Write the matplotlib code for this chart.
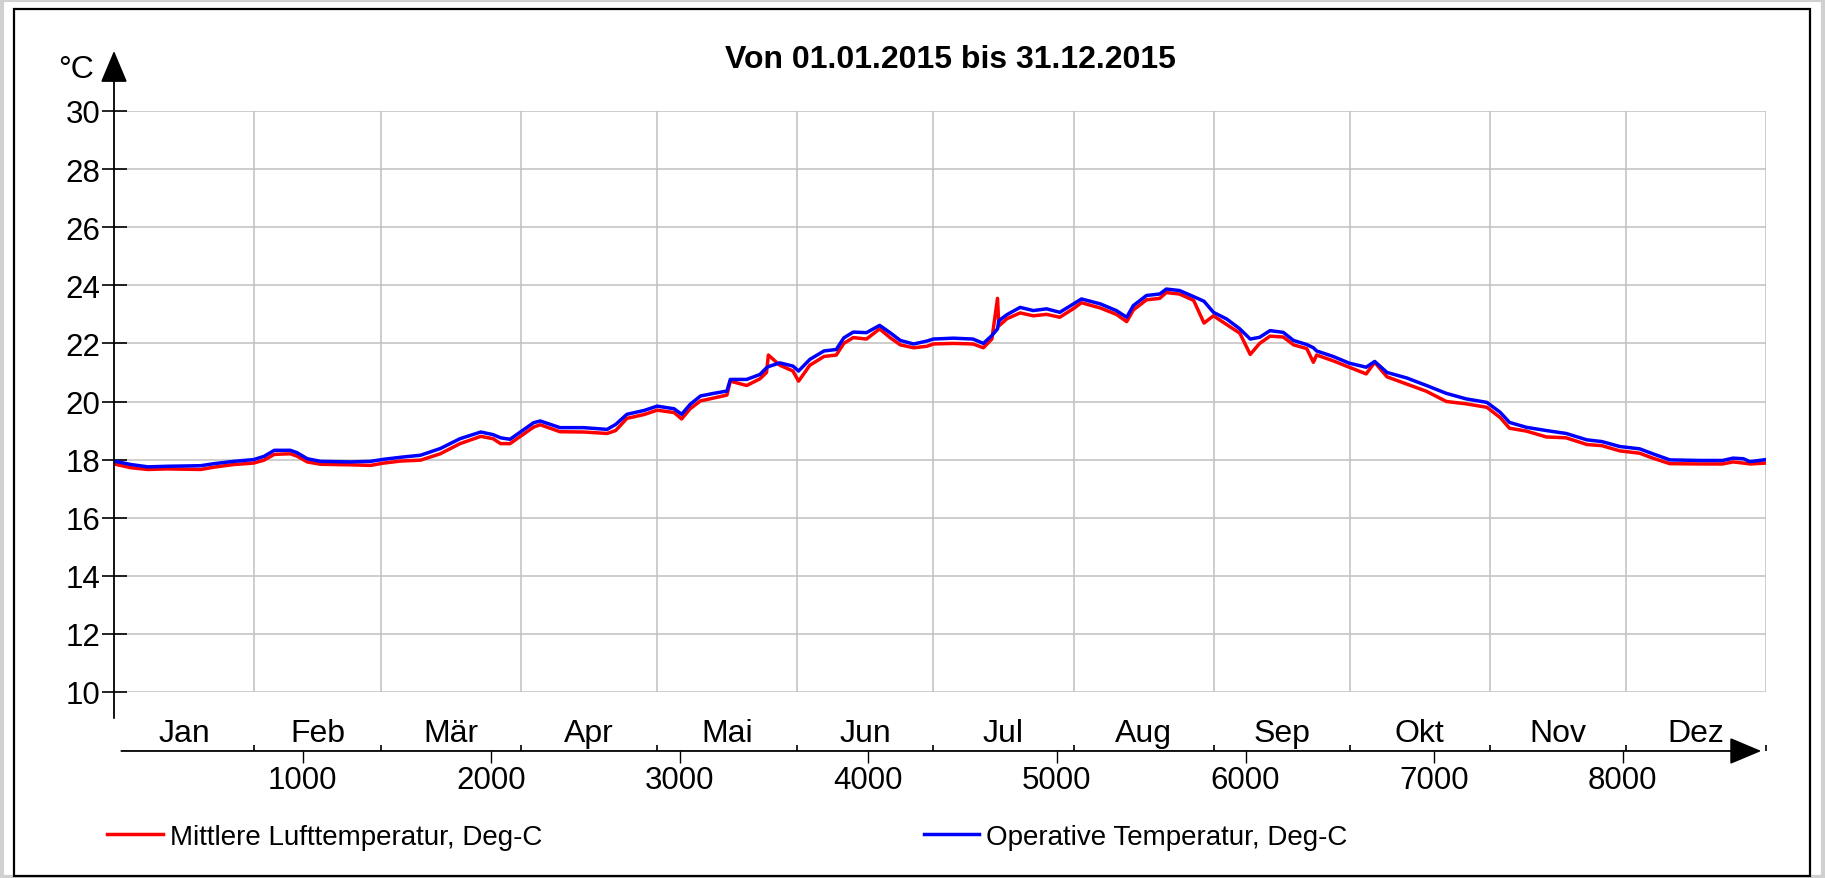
import numpy as np
import matplotlib
matplotlib.use("Agg")
import matplotlib.pyplot as plt
from matplotlib.patches import Rectangle

plt.rcParams['font.family'] = ['Liberation Sans', 'DejaVu Sans']

# hour of year and the two temperature series
hours = [0, 90, 180, 280, 460, 530, 635, 740, 795, 850, 935, 970, 1025, 1095,
         1255, 1360, 1430, 1520, 1625, 1730, 1835, 1945, 2010, 2050, 2100, 2155,
         2225, 2260, 2365, 2490, 2615, 2660, 2720, 2810, 2880, 2970, 3010, 3055,
         3110, 3180, 3250, 3268, 3355, 3425, 3460, 3470, 3530, 3600, 3630, 3690,
         3765, 3830, 3870, 3920, 3990, 4060, 4115, 4170, 4240, 4310, 4345, 4450,
         4555, 4610, 4655, 4685, 4692, 4735, 4805, 4875, 4945, 5015, 5088, 5130,
         5230, 5315, 5370, 5405, 5475, 5545, 5580, 5650, 5725, 5780, 5830, 5900,
         5970, 6025, 6075, 6130, 6200, 6255, 6325, 6360, 6377, 6465, 6550, 6640,
         6685, 6750, 6855, 6960, 7065, 7170, 7280, 7350, 7400, 7490, 7595, 7700,
         7810, 7890, 7985, 8090, 8160, 8250, 8410, 8530, 8585, 8640, 8675, 8760]

operative = [17.95, 17.83, 17.75, 17.77, 17.79, 17.86, 17.94, 18.00, 18.11, 18.32,
             18.32, 18.24, 18.03, 17.94, 17.92, 17.94, 18.01, 18.08, 18.15, 18.38,
             18.72, 18.95, 18.86, 18.75, 18.70, 18.95, 19.27, 19.33, 19.10, 19.10,
             19.04, 19.21, 19.56, 19.69, 19.84, 19.75, 19.56, 19.90, 20.19, 20.28,
             20.36, 20.76, 20.76, 20.93, 21.16, 21.20, 21.33, 21.22, 21.05, 21.45,
             21.74, 21.79, 22.19, 22.39, 22.37, 22.62, 22.37, 22.10, 21.98, 22.08,
             22.15, 22.18, 22.15, 22.00, 22.27, 22.50, 22.78, 22.99, 23.24, 23.13,
             23.19, 23.07, 23.36, 23.53, 23.36, 23.13, 22.90, 23.30, 23.65, 23.70,
             23.87, 23.82, 23.61, 23.45, 23.07, 22.84, 22.50, 22.15, 22.21, 22.44,
             22.38, 22.10, 21.96, 21.85, 21.74, 21.55, 21.32, 21.18, 21.38, 21.00,
             20.81, 20.55, 20.28, 20.09, 19.97, 19.63, 19.28, 19.11, 19.00, 18.90,
             18.68, 18.62, 18.45, 18.37, 18.20, 17.99, 17.97, 17.97, 18.05, 18.03,
             17.93, 18.00]

air = [17.85, 17.72, 17.66, 17.68, 17.66, 17.74, 17.83, 17.88, 17.98, 18.18,
       18.20, 18.12, 17.92, 17.84, 17.82, 17.80, 17.88, 17.95, 17.98, 18.20,
       18.55, 18.80, 18.72, 18.55, 18.55, 18.80, 19.12, 19.20, 18.96, 18.95,
       18.90, 19.00, 19.42, 19.55, 19.70, 19.62, 19.40, 19.75, 20.02, 20.12,
       20.22, 20.70, 20.55, 20.78, 21.00, 21.60, 21.25, 21.05, 20.70, 21.25,
       21.55, 21.60, 22.00, 22.20, 22.15, 22.50, 22.20, 21.95, 21.85, 21.90,
       21.98, 22.00, 21.98, 21.85, 22.15, 23.55, 22.60, 22.85, 23.05, 22.95,
       23.00, 22.90, 23.20, 23.40, 23.22, 23.00, 22.75, 23.15, 23.50, 23.55,
       23.75, 23.70, 23.48, 22.70, 22.95, 22.65, 22.35, 21.62, 22.00, 22.25,
       22.22, 21.95, 21.82, 21.35, 21.60, 21.40, 21.18, 20.95, 21.35, 20.85,
       20.60, 20.35, 20.00, 19.92, 19.80, 19.45, 19.08, 18.98, 18.78, 18.75,
       18.52, 18.48, 18.30, 18.22, 18.05, 17.86, 17.85, 17.85, 17.92, 17.88,
       17.85, 17.88]

months = ['Jan', 'Feb', 'Mär', 'Apr', 'Mai', 'Jun', 'Jul', 'Aug', 'Sep', 'Okt', 'Nov', 'Dez']
month_edges = [0, 744, 1416, 2160, 2880, 3624, 4344, 5088, 5832, 6552, 7296, 8016, 8760]
hour_ticks = [1000, 2000, 3000, 4000, 5000, 6000, 7000, 8000]
y_ticks = [10, 12, 14, 16, 18, 20, 22, 24, 26, 28, 30]

fig = plt.figure(figsize=(18.25, 8.79), dpi=100)
ax = fig.add_axes([114 / 1825, 1 - 693 / 879, 1652 / 1825, 581 / 879])

ax.plot(hours, air, color='#ff0000', lw=2.5, label='Mittlere Lufttemperatur, Deg-C')
ax.plot(hours, operative, color='#0000ff', lw=2.5, label='Operative Temperatur, Deg-C')

ax.set_xlim(0, 8760)
ax.set_ylim(10, 30)
for s in ['top', 'right', 'left', 'bottom']:
    ax.spines[s].set_visible(False)
ax.spines['bottom'].set_position(('outward', 42.5))

ax.set_yticks(y_ticks)
ax.tick_params(axis='y', direction='inout', length=18, width=1.2, pad=0.7,
               labelsize=22.5, color='black')
ax.grid(axis='y', color='#c0c0c0', lw=1.1)

ax.set_xticks(hour_ticks)
ax.set_xticks(month_edges[1:], minor=True)
ax.tick_params(axis='x', which='major', direction='out', length=8.5, width=1.0,
               pad=1.5, labelsize=22.5)
ax.tick_params(axis='x', which='minor', direction='in', length=4, width=1.2)
ax.grid(axis='x', which='minor', color='#c0c0c0', lw=1.1)
ax.set_axisbelow(True)

# month names between boundaries
for i, m in enumerate(months):
    ax.text((month_edges[i] + month_edges[i + 1]) / 2, 8.31, m, ha='center',
            va='baseline', fontsize=23, clip_on=False)

# axis lines with arrow heads
arrow = dict(arrowstyle='-|>,head_length=1.0,head_width=0.42', color='black',
             lw=1.3, shrinkA=0, shrinkB=0, mutation_scale=20)
ax.annotate('', xy=(0, 32.07), xytext=(0, 9.1), arrowprops=arrow,
            annotation_clip=False)
ax.annotate('', xy=(8735, 7.97), xytext=(39, 7.97), arrowprops=arrow,
            annotation_clip=False)

ax.text(-203, 31.45, '°C', ha='center', va='center', fontsize=23, clip_on=False)

fig.text(950 / 1825, 1 - 60 / 879, 'Von 01.01.2015 bis 31.12.2015', ha='center',
         va='center', fontsize=23, fontweight='bold')

fig.legend(loc='center left', bbox_to_anchor=(107 / 1825, 1 - 838 / 879), ncol=2,
           frameon=False, fontsize=20, handlelength=2.0, handletextpad=0.25,
           columnspacing=13.75, borderpad=0, borderaxespad=0)

# outer frames
fig.patches.append(Rectangle((0.001, 0.001), 0.998, 0.998, transform=fig.transFigure,
                             fill=False, edgecolor='#d0d0d0', lw=3))
fig.patches.append(Rectangle((14 / 1825, 1 - 877 / 879), 1796 / 1825, 867 / 879,
                             transform=fig.transFigure, fill=False,
                             edgecolor='black', lw=1.6))

fig.savefig('out.png', dpi=100)
